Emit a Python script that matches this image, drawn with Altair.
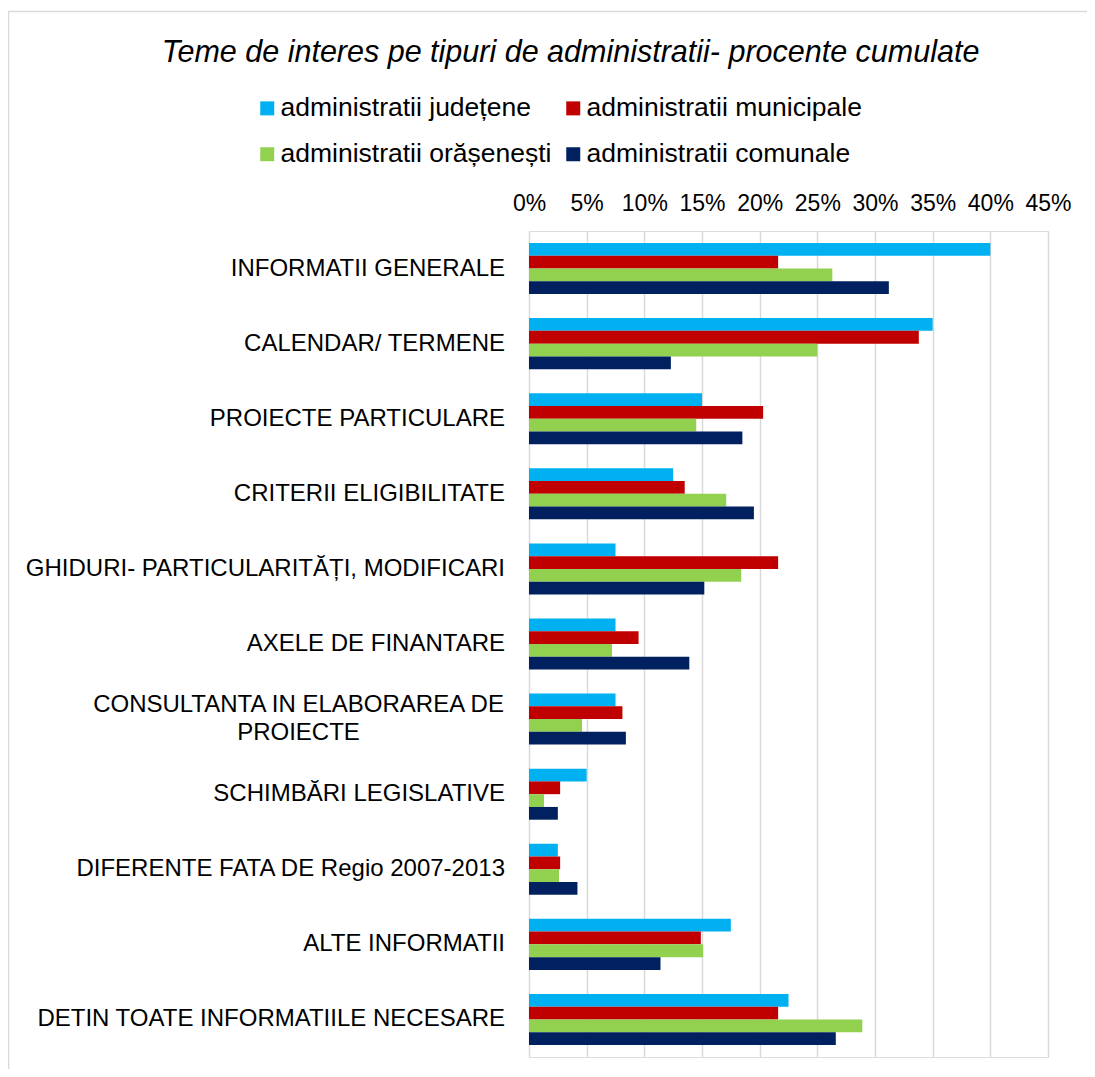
import altair as alt
import pandas as pd

categories = [
    "INFORMATII GENERALE",
    "CALENDAR/ TERMENE",
    "PROIECTE PARTICULARE",
    "CRITERII ELIGIBILITATE",
    "GHIDURI- PARTICULARITĂȚI, MODIFICARI",
    "AXELE DE FINANTARE",
    "CONSULTANTA IN ELABORAREA DE|PROIECTE",
    "SCHIMBĂRI LEGISLATIVE",
    "DIFERENTE FATA DE Regio 2007-2013",
    "ALTE INFORMATII",
    "DETIN TOATE INFORMATIILE NECESARE",
]
series = [
    "administratii județene",
    "administratii municipale",
    "administratii orășenești",
    "administratii comunale",
]
colors = ["#00B0F0", "#C00000", "#92D050", "#002060"]

judetene = [40.0, 35.0, 15.0, 12.5, 7.5, 7.5, 7.5, 5.0, 2.5, 17.5, 22.5]
municipale = [21.6, 33.8, 20.3, 13.5, 21.6, 9.5, 8.1, 2.7, 2.7, 14.9, 21.6]
orasenesti = [26.3, 25.0, 14.5, 17.1, 18.4, 7.2, 4.6, 1.3, 2.6, 15.1, 28.9]
comunale = [31.2, 12.3, 18.5, 19.5, 15.2, 13.9, 8.4, 2.5, 4.2, 11.4, 26.6]

tick_values = [0, 0.05, 0.10, 0.15, 0.20, 0.25, 0.30, 0.35, 0.40, 0.45]

rows = []
for s, vals in zip(series, [judetene, municipale, orasenesti, comunale]):
    for c, v in zip(categories, vals):
        rows.append({"cat": c, "series": s, "value": v / 100})
df = pd.DataFrame(rows)

FONT = "Liberation Sans"
yscale = alt.Scale(domain=categories, paddingInner=0.32, paddingOuter=0.16)

bars = alt.Chart(df).mark_bar().encode(
    x=alt.X(
        "value:Q",
        scale=alt.Scale(domain=[0, 0.45]),
        axis=alt.Axis(
            orient="top", format="%", values=tick_values, title=None,
            domain=False, ticks=False, tickSize=0, labelPadding=16,
            labelFontSize=23, labelFont=FONT, labelColor="#000000",
            labelOverlap=False, labelFlush=False,
            gridColor="#D9D9D9", gridWidth=1.5,
        ),
    ),
    y=alt.Y("cat:N", scale=yscale, axis=None),
    yOffset=alt.YOffset("series:N", scale=alt.Scale(domain=series, paddingInner=0, paddingOuter=0)),
    color=alt.Color(
        "series:N",
        scale=alt.Scale(domain=series, range=colors),
        legend=alt.Legend(
            title=None, orient="none", legendX=-275, legendY=-136,
            columns=2, direction="horizontal", symbolType="square",
            symbolSize=196, symbolStrokeWidth=0, labelFontSize=26.5,
            labelFont=FONT, labelColor="#000000", labelOffset=0,
            rowPadding=19, columnPadding=8, padding=0, labelLimit=500,
        ),
    ),
)

single = [c for c in categories if "|" not in c]
multi = [c for c in categories if "|" in c]

txt1 = alt.Chart(pd.DataFrame({"cat": single})).mark_text(
    align="right", baseline="middle", fontSize=24, font=FONT, color="#000000"
).encode(
    y=alt.Y("cat:N", scale=yscale, axis=None),
    x=alt.value(-24),
    text="cat:N",
)

txt2 = alt.Chart(pd.DataFrame({"cat": multi})).mark_text(
    align="center", baseline="middle", fontSize=24, font=FONT, color="#000000",
    lineBreak="|", lineHeight=28, dy=-14,
).encode(
    y=alt.Y("cat:N", scale=yscale, axis=None),
    x=alt.value(-230.5),
    text="cat:N",
)

frame_data = alt.Data(values=[{"k": 1}])
border_left = alt.Chart(frame_data).mark_rule(color="#D9D9D9", strokeWidth=1.5).encode(
    x=alt.value(-520.5), y=alt.value(-220), y2=alt.value(850)
)
border_top = alt.Chart(frame_data).mark_rule(color="#D9D9D9", strokeWidth=1.5).encode(
    x=alt.value(-521), x2=alt.value(560), y=alt.value(-219.5)
)

chart = alt.layer(border_left, border_top, bars, txt1, txt2).properties(
    width=519,
    height=826,
    title=alt.TitleParams(
        text="Teme de interes pe tipuri de administratii- procente cumulate",
        fontSize=30.5, fontStyle="italic", fontWeight="normal", font=FONT,
        color="#000000", anchor="middle", frame="group", dx=-218, offset=-58,
    ),
    autosize=alt.AutoSizeParams(type="none"),
    padding={"left": 521, "top": 223, "right": 39, "bottom": 12},
).configure_view(stroke=None).configure(background="white")

chart.save("out.html", embed_options={"renderer": "svg", "actions": False})
